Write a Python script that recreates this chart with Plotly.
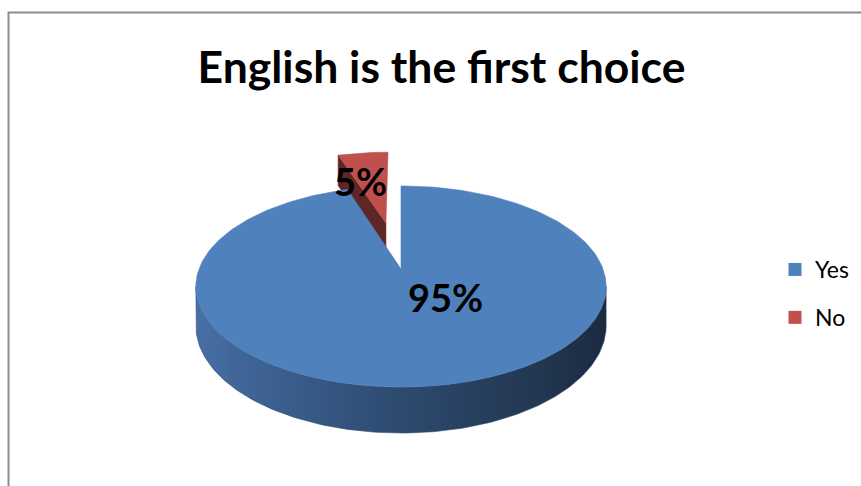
import numpy as np
import plotly.graph_objects as go

# ---- data ----
labels = ["Yes", "No"]
values = [95, 5]
top_colors = ["#4F81BD", "#C0504D"]
cut_colors = ["#2B4768", "#5E2624"]
explode = [0.0, 0.52]
title_text = "English is the first choice"

# ---- drawing constants (pixel space) ----
W, Hpx = 861, 486
CX, CY = 401, 269        # projected pie centre
A, B = 202, 97.5         # radii of the top face
P = 0.174                # perspective factor (far side smaller)
DEPTH = 38               # thickness of the pie
LABEL_POS = [(445, 297), (360, 181)]
FONT = "Lato"


def project(u, v, z):
    """Map a point of the unit disc (u right, v away) at height z (0 top, 1 bottom)."""
    u = np.asarray(u, dtype=float)
    v = np.asarray(v, dtype=float)
    s = 1.0 / (1.0 + P * v)
    return CX + A * u * s, CY - B * v * s + DEPTH * z * s


fig = go.Figure()

total = float(sum(values))
bounds = np.concatenate([[0.0], np.cumsum(values) / total * 360.0])

slices = []
for i, lab in enumerate(labels):
    p0, p1 = bounds[i], bounds[i + 1]
    mid = np.radians((p0 + p1) / 2)
    du, dv = explode[i] * np.sin(mid), explode[i] * np.cos(mid)
    slices.append(dict(i=i, p0=p0, p1=p1, du=du, dv=dv, depth_key=np.cos(mid) + dv))

# paint from back to front
slices.sort(key=lambda s: -s["depth_key"])


def poly(xs, ys, color, gradient=None):
    kw = dict(x=list(xs) + [xs[0]], y=list(ys) + [ys[0]], mode="lines", fill="toself",
              line=dict(width=0.6, color=color), fillcolor=color,
              hoverinfo="skip", showlegend=False)
    if gradient is not None:
        kw["fillgradient"] = gradient
    fig.add_trace(go.Scatter(**kw))


# angle (from the top, clockwise) where the side silhouette starts
phi_lo = np.degrees(np.arccos(-P))
for s in slices:
    i, p0, p1, du, dv = s["i"], s["p0"], s["p1"], s["du"], s["dv"]

    # outer wall (front half only)
    a0, a1 = max(p0, phi_lo), min(p1, 360 - phi_lo)
    if a1 > a0:
        ph = np.radians(np.linspace(a0, a1, 160))
        u, v = np.sin(ph) + du, np.cos(ph) + dv
        xt, yt = project(u, v, 0)
        xb, yb = project(u, v, 1)
        xs = np.concatenate([xt, xb[::-1]])
        ys = np.concatenate([yt, yb[::-1]])
        grad = dict(type="horizontal", start=float(xs.min()), stop=float(xs.max()),
                    colorscale=[[0, "#4870A6"], [0.12, "#3F6496"], [0.5, "#2D4A6F"],
                                [0.85, "#22364F"], [1, "#1B2A40"]])
        poly(xs, ys, "#2D4A6F", grad)

    # radial cut faces that face the viewer
    for edge, normal_v in ((p0, np.sin(np.radians(p0))), (p1, -np.sin(np.radians(p1)))):
        if normal_v < -1e-6:
            r = np.radians(edge)
            u = np.array([du, np.sin(r) + du, np.sin(r) + du, du])
            v = np.array([dv, np.cos(r) + dv, np.cos(r) + dv, dv])
            z = np.array([0, 0, 1, 1])
            xs, ys = project(u, v, z)
            poly(xs, ys, cut_colors[i])

    # top face
    ph = np.radians(np.linspace(p0, p1, 240))
    u = np.concatenate([[du], np.sin(ph) + du])
    v = np.concatenate([[dv], np.cos(ph) + dv])
    xs, ys = project(u, v, 0)
    poly(xs, ys, top_colors[i])

# percentage labels
for i, val in enumerate(values):
    fig.add_annotation(x=LABEL_POS[i][0], y=LABEL_POS[i][1], text=f"<b>{val}%</b>",
                       showarrow=False, xanchor="center", yanchor="middle",
                       font=dict(family=FONT, size=38, color="#000000"))

# legend entries
for lab, col in zip(labels, top_colors):
    fig.add_trace(go.Scatter(x=[None], y=[None], mode="markers", name=lab,
                             legendgroup=lab,
                             marker=dict(symbol="square", size=13, color=col)))

# chart frame
fig.add_shape(type="path", path=f"M 8.5 {Hpx} L 8.5 12.5 L {W} 12.5",
              line=dict(color="#8C8C8C", width=2), layer="above")

fig.update_layout(
    width=W, height=Hpx,
    margin=dict(l=0, r=0, t=0, b=0),
    paper_bgcolor="white", plot_bgcolor="white",
    title=dict(text=f"<b>{title_text}</b>", x=441.5 / W, xanchor="center",
               y=1 - 67 / Hpx, yanchor="middle",
               font=dict(family=FONT, size=44.5, color="#000000")),
    xaxis=dict(range=[0, W], visible=False, fixedrange=True),
    yaxis=dict(range=[Hpx, 0], visible=False, fixedrange=True),
    legend=dict(x=775 / W, xanchor="left", y=1 - 248 / Hpx, yanchor="top",
                font=dict(family=FONT, size=23, color="#000000"),
                tracegroupgap=15, bgcolor="rgba(0,0,0,0)"),
    showlegend=True,
)

fig.write_html("out.html")
